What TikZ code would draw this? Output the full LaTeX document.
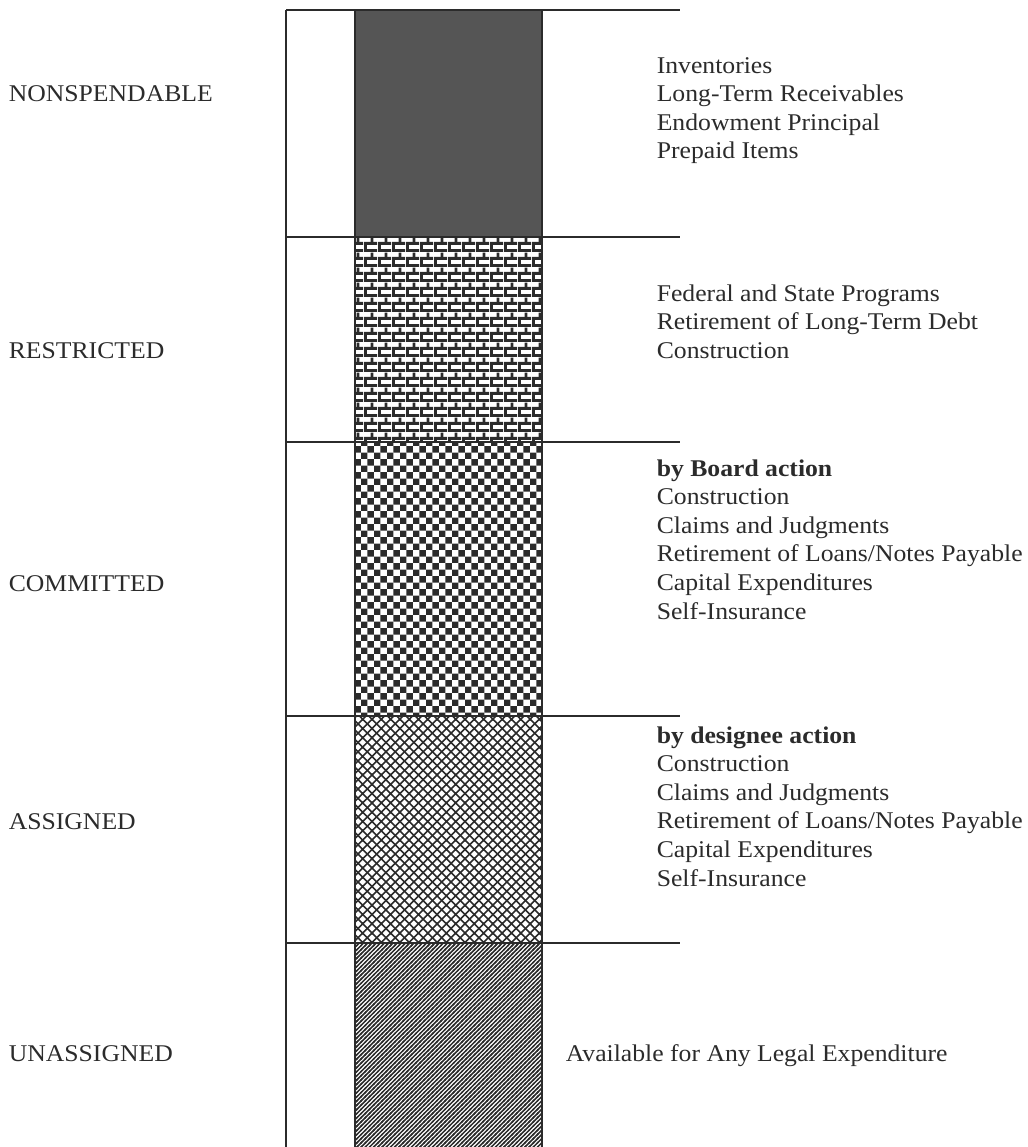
\documentclass[tikz,border=0pt]{standalone}
\usepackage{fontspec}
\setmainfont{Liberation Serif}[FakeStretch=1.07]
\usetikzlibrary{patterns.meta}
\definecolor{ink}{HTML}{2B2B2B}
\definecolor{darkfill}{HTML}{555555}

% ---- fills for the lower four bands of the bar ----
\tikzdeclarepattern{name=brickwall, type=uncolored,
  bounding box={(0,0) and (7pt,7.3pt)}, tile size={(7pt,7.3pt)},
  code={\fill (0,0) rectangle (7pt,1.5pt);
        \fill (0,3.65pt) rectangle (7pt,5.15pt);
        \fill (0,0) rectangle (1.5pt,3.65pt);
        \fill (3.5pt,3.65pt) rectangle (5pt,7.3pt);}}
\tikzdeclarepattern{name=checker, type=uncolored,
  bounding box={(0,0) and (6.7pt,6.7pt)}, tile size={(6.7pt,6.7pt)},
  code={\fill (0,0) rectangle (3.35pt,3.35pt);
        \fill (3.35pt,3.35pt) rectangle (6.7pt,6.7pt);}}
\tikzdeclarepattern{name=diamonds, type=uncolored,
  bounding box={(-0.5pt,-0.5pt) and (5.15pt,5.15pt)}, tile size={(4.65pt,4.65pt)},
  code={\draw[line width=0.8pt] (-0.5pt,-0.5pt) -- (5.15pt,5.15pt);
        \draw[line width=0.8pt] (-0.5pt,5.15pt) -- (5.15pt,-0.5pt);}}
\tikzdeclarepattern{name=hatch, type=uncolored,
  bounding box={(-0.5pt,-0.5pt) and (2.6pt,2.6pt)}, tile size={(2.1pt,2.1pt)},
  code={\draw[line width=0.75pt] (-0.5pt,-0.5pt) -- (2.6pt,2.6pt);}}

\tikzset{
  every picture/.style={font=\fontsize{12}{14.3}\selectfont, line width=0.8pt},
  rule/.style={draw=ink, line width=0.8pt},
  fund/.style={text=ink, anchor=base west, inner sep=0pt},
  entry/.style={text=ink, anchor=base west, inner sep=0pt},
}

\begin{document}
\begin{tikzpicture}[x=0.5pt, y=-0.5pt]
  \useasboundingbox (0,0) rectangle (1028,1147);
  % ---- the bar, one band per fund class ----
  \fill[darkfill] (355,10) rectangle (542,237);
  \foreach \ya/\yb/\pat in {237/442/brickwall, 442/716/checker,
      716/943/diamonds, 943/1147/hatch}
    \fill[pattern=\pat, pattern color=ink] (355,\ya) rectangle (542,\yb);
  \draw[rule] (355,10) -- (355,1147) (542,10) -- (542,1147);
  \draw[rule] (286,10) -- (286,1147);
  \foreach \y in {10,237,442,716,943}
    \draw[rule] (286,\y) -- (680,\y);
  % ---- class names on the left ----
  \foreach \t/\y [count=\i] in {NONSPENDABLE/101, RESTRICTED/358, COMMITTED/591,
      ASSIGNED/829, UNASSIGNED/1061}
    \node[fund] (fund\i) at (8,\y) {\t};
  % ---- what each class holds ----
  \foreach \t [count=\i from 0] in {Inventories, Long-Term Receivables,
      Endowment Principal, Prepaid Items}
    \node[entry] (nonsp\i) at (656,73+\i*28.6) {\t};
  \foreach \t [count=\i from 0] in {Federal and State Programs,
      Retirement of Long-Term Debt, Construction}
    \node[entry] (restr\i) at (656,301+\i*28.6) {\t};
  \foreach \t [count=\i from 0] in {\textbf{by Board action}, Construction,
      Claims and Judgments, Retirement of Loans/Notes Payable,
      Capital Expenditures, Self-Insurance}
    \node[entry] (commit\i) at (656,476+\i*28.6) {\t};
  \foreach \t [count=\i from 0] in {\textbf{by designee action}, Construction,
      Claims and Judgments, Retirement of Loans/Notes Payable,
      Capital Expenditures, Self-Insurance}
    \node[entry] (assign\i) at (656,743+\i*28.6) {\t};
  \node[entry] (unassign) at (565,1061) {Available for Any Legal Expenditure};
\end{tikzpicture}
\end{document}
